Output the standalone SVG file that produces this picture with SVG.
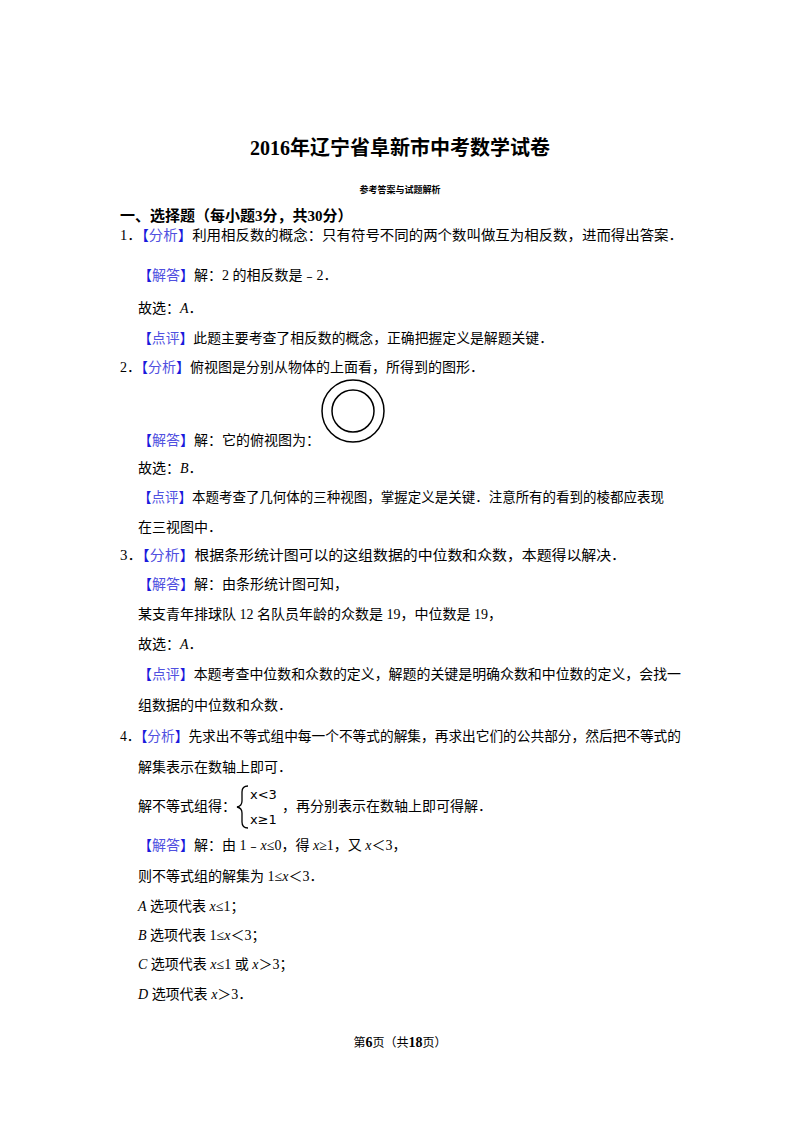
<svg xmlns="http://www.w3.org/2000/svg" width="800" height="1132" viewBox="0 0 800 1132">
<style>
text{font-family:"Liberation Serif","Noto Sans CJK SC",serif;font-size:14px;fill:#000}
.t{font-size:20px;font-weight:bold}
.s{font-size:9px;font-weight:bold}
.h{font-size:15px;font-weight:bold}
.b{fill:#1a1adc}
.bl{fill:#5050e0}
.i{font-style:italic}
.f{font-size:12px}
</style>
<rect width="800" height="1132" fill="#fff"/>
<text class="t" x="400" y="155" text-anchor="middle">2016年辽宁省阜新市中考数学试卷</text>
<text class="s" x="400" y="193" text-anchor="middle">参考答案与试题解析</text>
<text class="h" x="120" y="221">一、选择题（每小题3分，共30分）</text>

<text x="120" y="240" textLength="563" lengthAdjust="spacingAndGlyphs">1．<tspan class="b">【</tspan><tspan class="bl">分析</tspan><tspan class="b">】</tspan>利用相反数的概念：只有符号不同的两个数叫做互为相反数，进而得出答案．</text>
<text x="138" y="280"><tspan class="b">【</tspan><tspan class="bl">解答</tspan><tspan class="b">】</tspan>解：2 的相反数是﹣2．</text>
<text x="138" y="313">故选：<tspan class="i">A</tspan>．</text>
<text x="138" y="343" textLength="415" lengthAdjust="spacingAndGlyphs"><tspan class="b">【</tspan><tspan class="bl">点评</tspan><tspan class="b">】</tspan>此题主要考查了相反数的概念，正确把握定义是解题关键．</text>

<text x="120" y="372">2．<tspan class="b">【</tspan><tspan class="bl">分析</tspan><tspan class="b">】</tspan>俯视图是分别从物体的上面看，所得到的图形．</text>
<g id="circles" fill="none" stroke="#000" stroke-width="1.5">
<circle cx="353" cy="411" r="31"/>
<circle cx="353" cy="411" r="21"/>
</g>
<text x="138" y="445"><tspan class="b">【</tspan><tspan class="bl">解答</tspan><tspan class="b">】</tspan>解：它的俯视图为：</text>
<text x="138" y="473">故选：<tspan class="i">B</tspan>．</text>
<text x="138" y="502" textLength="526" lengthAdjust="spacingAndGlyphs"><tspan class="b">【</tspan><tspan class="bl">点评</tspan><tspan class="b">】</tspan>本题考查了几何体的三种视图，掌握定义是关键．注意所有的看到的棱都应表现</text>
<text x="138" y="532">在三视图中．</text>

<text x="120" y="560" textLength="506" lengthAdjust="spacingAndGlyphs">3．<tspan class="b">【</tspan><tspan class="bl">分析</tspan><tspan class="b">】</tspan>根据条形统计图可以的这组数据的中位数和众数，本题得以解决．</text>
<text x="138" y="589"><tspan class="b">【</tspan><tspan class="bl">解答</tspan><tspan class="b">】</tspan>解：由条形统计图可知，</text>
<text x="138" y="619">某支青年排球队 12 名队员年龄的众数是 19，中位数是 19，</text>
<text x="138" y="649">故选：<tspan class="i">A</tspan>．</text>
<text x="138" y="679" textLength="543" lengthAdjust="spacingAndGlyphs"><tspan class="b">【</tspan><tspan class="bl">点评</tspan><tspan class="b">】</tspan>本题考查中位数和众数的定义，解题的关键是明确众数和中位数的定义，会找一</text>
<text x="138" y="710">组数据的中位数和众数．</text>

<text x="120" y="741" textLength="561" lengthAdjust="spacingAndGlyphs">4．<tspan class="b">【</tspan><tspan class="bl">分析</tspan><tspan class="b">】</tspan>先求出不等式组中每一个不等式的解集，再求出它们的公共部分，然后把不等式的</text>
<text x="138" y="772">解集表示在数轴上即可．</text>
<text x="138" y="811">解不等式组得：</text>
<path d="M248,786 q-6,0 -6,6 v9 q0,5 -5,6 q5,1 5,6 v9 q0,6 6,6" fill="none" stroke="#000" stroke-width="1.3"/>
<text x="250" y="799" style="font-family:'DejaVu Sans',sans-serif;font-size:13px">x&lt;3</text>
<text x="250" y="824" style="font-family:'DejaVu Sans',sans-serif;font-size:13px">x≥1</text>
<text x="282" y="811">，再分别表示在数轴上即可得解．</text>
<text x="138" y="850"><tspan class="b">【</tspan><tspan class="bl">解答</tspan><tspan class="b">】</tspan>解：由 1﹣<tspan class="i">x</tspan>≤0，得 <tspan class="i">x</tspan>≥1，又 <tspan class="i">x</tspan>＜3，</text>
<text x="138" y="881">则不等式组的解集为 1≤<tspan class="i">x</tspan>＜3．</text>
<text x="138" y="911"><tspan class="i">A</tspan> 选项代表 <tspan class="i">x</tspan>≤1；</text>
<text x="138" y="940"><tspan class="i">B</tspan> 选项代表 1≤<tspan class="i">x</tspan>＜3；</text>
<text x="138" y="969"><tspan class="i">C</tspan> 选项代表 <tspan class="i">x</tspan>≤1 或 <tspan class="i">x</tspan>＞3；</text>
<text x="138" y="999"><tspan class="i">D</tspan> 选项代表 <tspan class="i">x</tspan>＞3．</text>

<text class="f" x="400" y="1047" text-anchor="middle">第<tspan font-weight="bold" font-size="14">6</tspan>页（共<tspan font-weight="bold" font-size="14">18</tspan>页）</text>
</svg>
